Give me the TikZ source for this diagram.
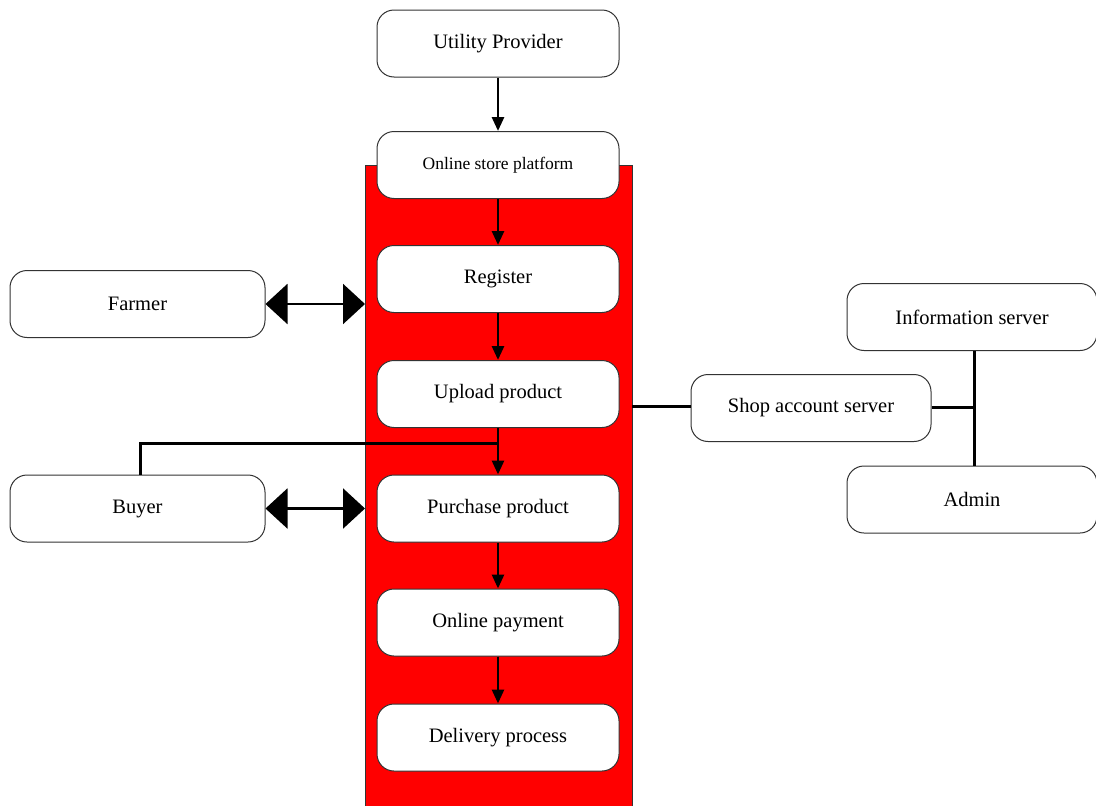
\documentclass[tikz,border=0pt]{standalone}
\usepackage{fontspec}
\setmainfont{Liberation Serif}
\usetikzlibrary{arrows.meta}
\begin{document}
\begin{tikzpicture}[x=1pt,y=-1pt,
  blk/.style={draw=black!80, fill=white, rounded corners=17pt, line width=1pt, minimum width=242pt, minimum height=67pt, inner sep=0pt, font=\fontsize{20.5}{24}\selectfont},
  flow/.style={-{Triangle[length=14pt,width=12pt]}, line width=2.8pt},
  big/.style={{Triangle[length=22pt,width=40pt]}-{Triangle[length=22pt,width=40pt]}, line width=2.2pt},
  link/.style={line width=3pt}]
\useasboundingbox (0,0) rectangle (1096,806);
\filldraw[fill=red, draw=black!80, line width=0.8pt] (365,165) rectangle (632,812); %platform band
\node[blk] (util) at (498,43.5) {Utility Provider};
\node[blk, font=\fontsize{17.5}{21}\selectfont] (store) at (498,165) {Online store platform};
\node[blk] (reg) at (498,279) {Register};
\node[blk] (upl) at (498,394) {Upload product};
\node[blk] (pur) at (498,508.5) {Purchase product};
\node[blk] (pay) at (498,622.5) {Online payment};
\node[blk] (del) at (498,737.5) {Delivery process};
\node[blk, minimum width=255pt] (farmer) at (137.5,304) {Farmer};
\node[blk, minimum width=255pt] (buyer) at (137.5,508.5) {Buyer};
\node[blk, minimum width=250pt] (info) at (972,317) {Information server};
\node[blk, minimum width=240pt] (shop) at (811,408) {Shop account server};
\node[blk, minimum width=250pt] (admin) at (972,499.5) {Admin};
\coordinate (bandL1) at (365,304);
\coordinate (bandL2) at (365,508.5);
\coordinate (bandR) at (632,406);
\coordinate (join) at (498,443);
\coordinate (hub) at (974,407);
% main flow
\draw[flow] (util) -- (store);
\draw[flow] (store) -- (reg);
\draw[flow] (reg) -- (upl);
\draw[flow] (upl) -- (pur);
\draw[flow] (pur) -- (pay);
\draw[flow] (pay) -- (del);
% users
\draw[big] (farmer.east) -- (bandL1);
\draw[big] (buyer.east) -- (bandL2);
\draw[link] (buyer.north -| 140,0) |- (join);
% servers
\draw[link] (bandR) -- (shop.west |- bandR);
\draw[link] (shop.east |- hub) -- (hub);
\draw[link] (info.south -| hub) -- (admin.north -| hub);
\end{tikzpicture}
\end{document}
